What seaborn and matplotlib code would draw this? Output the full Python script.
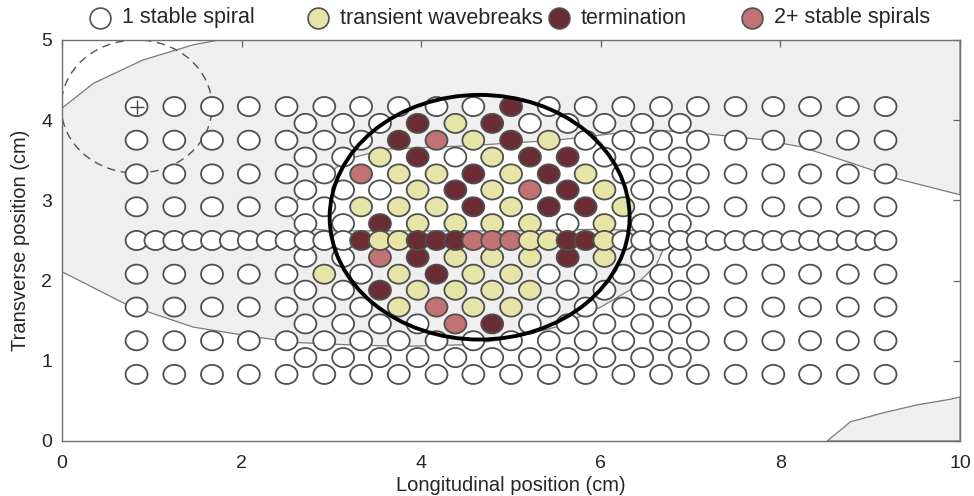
import numpy as np
import pandas as pd
import seaborn as sns
import matplotlib.pyplot as plt
from matplotlib.patches import Ellipse, Polygon
from matplotlib.lines import Line2D
from matplotlib.path import Path
from matplotlib.transforms import Affine2D

sns.set_style('white')
plt.rcParams['font.family'] = ['Liberation Sans', 'DejaVu Sans']

# electrode lattice (cm)
coarse_cols = [0.83, 1.25, 1.67, 2.08, 2.50, 2.92, 3.33, 3.75, 4.17, 4.58, 5.00,
               5.42, 5.83, 6.25, 6.67, 7.08, 7.50, 7.92, 8.33, 8.75, 9.17]
coarse_rows = [0.83, 1.25, 1.67, 2.08, 2.92, 3.33, 3.75, 4.17]
center_row = 2.50
mid_cols = [1.04, 1.46, 1.88, 2.29, 2.71, 3.13, 3.54, 3.96, 4.38, 4.79,
            5.21, 5.63, 6.04, 6.46, 6.88, 7.29, 7.71, 8.13, 8.54, 8.96]
stagger_cols = [2.71, 3.13, 3.54, 3.96, 4.38, 4.79, 5.21, 5.63, 6.04, 6.46, 6.88]
stagger_rows = [1.04, 1.46, 1.88, 2.29, 2.71, 3.13, 3.54, 3.96]

# outcome per site (everything not listed -> 1 stable spiral)
term_x = [5.00, 3.96, 4.79, 3.75, 5.00, 3.96, 5.21, 5.63, 4.58, 5.42, 4.38, 5.63, 4.58, 5.42,
          5.83, 3.54, 3.33, 3.96, 4.17, 4.38, 5.63, 5.83, 3.96, 5.63, 4.17, 3.54, 4.79]
term_y = [4.17, 3.96, 3.96, 3.75, 3.75, 3.54, 3.54, 3.54, 3.33, 3.33, 3.13, 3.13, 2.92, 2.92,
          2.92, 2.71, 2.50, 2.50, 2.50, 2.50, 2.50, 2.50, 2.29, 2.29, 2.08, 1.88, 1.46]
trans_x = [4.38, 4.58, 5.42, 3.54, 4.79, 3.75, 4.17, 5.00, 5.83, 3.96, 4.79, 6.04, 3.33, 3.75,
           4.17, 5.00, 6.25, 3.96, 4.38, 4.79, 5.21, 6.04, 3.54, 3.75, 5.21, 5.42, 6.04, 4.38,
           4.79, 5.21, 6.04, 2.92, 3.75, 4.58, 5.00, 3.96, 4.38, 4.79, 5.21, 3.75, 4.58, 5.00]
trans_y = [3.96, 3.75, 3.75, 3.54, 3.54, 3.33, 3.33, 3.33, 3.33, 3.13, 3.13, 3.13, 2.92, 2.92,
           2.92, 2.92, 2.92, 2.71, 2.71, 2.71, 2.71, 2.71, 2.50, 2.50, 2.50, 2.50, 2.50, 2.29,
           2.29, 2.29, 2.29, 2.08, 2.08, 2.08, 2.08, 1.88, 1.88, 1.88, 1.88, 1.67, 1.67, 1.67]
multi_x = [4.17, 3.33, 5.21, 4.58, 4.79, 5.00, 3.54, 4.17, 4.38]
multi_y = [3.75, 3.33, 3.13, 2.50, 2.50, 2.50, 2.29, 1.67, 1.46]

stim_x, stim_y = 0.83, 4.17

labels = ['1 stable spiral', 'transient wavebreaks', 'termination', '2+ stable spirals']
colors = ['#ffffff', '#e6e4a6', '#6a2d33', '#c27272']
palette = dict(zip(labels, colors))

# shaded regions and outlines (cm)
shade_x = [0, 0.35, 0.9, 1.46, 1.75, 10, 10, 9.33, 8.78, 8.22, 7.77, 7.0, 6.5, 5.5, 4.5,
           3.6, 3.2, 2.85, 2.62, 2.55, 2.65, 3.0, 4.0, 5.0, 6.0, 6.5, 6.72, 6.62, 6.35,
           6.0, 5.5, 5.0, 4.5, 3.8, 3.17, 2.57, 2.02, 1.46, 0.72, 0]
shade_y = [4.15, 4.46, 4.75, 4.94, 5.0, 5.0, 3.07, 3.26, 3.47, 3.67, 3.76, 3.85, 3.88, 3.75,
           3.68, 3.64, 3.52, 3.25, 3.0, 2.8, 2.66, 2.62, 2.62, 2.62, 2.64, 2.62, 2.45, 2.2,
           1.9, 1.67, 1.42, 1.28, 1.2, 1.18, 1.2, 1.23, 1.32, 1.42, 1.70, 2.11]
corner_x = [8.52, 8.78, 9.14, 9.52, 9.89, 10, 10]
corner_y = [0, 0.24, 0.35, 0.45, 0.52, 0.55, 0]

rows = []
for y in coarse_rows:
    for x in coarse_cols:
        rows.append((x, y))
for y in stagger_rows:
    for x in stagger_cols:
        rows.append((x, y))
for x in sorted(coarse_cols + mid_cols):
    rows.append((x, center_row))
df = pd.DataFrame(rows, columns=['x', 'y'])

outcome = {}
for xs, ys, lab in [(trans_x, trans_y, labels[1]), (term_x, term_y, labels[2]),
                    (multi_x, multi_y, labels[3])]:
    for x, y in zip(xs, ys):
        outcome[(x, y)] = lab
df['outcome'] = [outcome.get((x, y), labels[0]) for x, y in zip(df.x, df.y)]

# slightly flattened circle, as in the original figure
oval = Path.unit_circle().transformed(Affine2D().scale(1.0, 0.87))

fig = plt.figure(figsize=(9.74, 4.96), dpi=100)
ax = fig.add_axes([0.0637, 0.1109, 0.922, 0.8085])
ax.set_facecolor('white')

ax.add_patch(Polygon(np.column_stack([shade_x, shade_y]), closed=True,
                     facecolor='#efefef', edgecolor='#7a7a7a', lw=0.9, zorder=0.5))
ax.add_patch(Polygon(np.column_stack([corner_x, corner_y]), closed=True,
                     facecolor='#efefef', edgecolor='#7a7a7a', lw=0.9, zorder=0.5))
ax.add_patch(Ellipse((stim_x, stim_y), 1.68, 1.66, fill=False, ls=(0, (6, 4)),
                     lw=1.0, edgecolor='#555555', zorder=1))

sns.scatterplot(data=df, x='x', y='y', hue='outcome', palette=palette, s=250,
                marker=oval, edgecolor='#505050', linewidth=1.3, legend=False,
                ax=ax, zorder=3)
ax.scatter([stim_x], [stim_y], marker='+', s=110, color='#444444', lw=1.0, zorder=4)

ax.add_patch(Ellipse((4.65, 2.79), 3.34, 3.05, fill=False, lw=2.8,
                     edgecolor='black', zorder=5))

ax.set_xlim(0, 10)
ax.set_ylim(0, 5)
ax.set_xticks([0, 2, 4, 6, 8, 10])
ax.set_yticks([0, 1, 2, 3, 4, 5])
ax.tick_params(direction='in', top=True, right=True, length=5, width=0.9,
               color='#666666', labelsize=14)
ax.tick_params(axis='x', pad=10)
ax.tick_params(axis='y', pad=7)
for sp in ax.spines.values():
    sp.set_color('#707070')
    sp.set_linewidth(1.0)
    sp.set_zorder(6)
ax.set_xlabel('Longitudinal position (cm)', fontsize=14.5, labelpad=3)
ax.set_ylabel('Transverse position (cm)', fontsize=14.5, labelpad=8)

# legend row above the axes
leg_marker_px = [100, 318, 559, 752]
for px, lab, col in zip(leg_marker_px, labels, colors):
    fig.add_artist(Line2D([px / 974], [1 - 18 / 496], marker='o', markersize=15,
                          markerfacecolor=col, markeredgecolor='#505050',
                          markeredgewidth=1.2, transform=fig.transFigure))
    fig.text((px + 22) / 974, 1 - 18 / 496, lab, fontsize=15.5, va='center', ha='left')

fig.savefig('out.png', dpi=100)
